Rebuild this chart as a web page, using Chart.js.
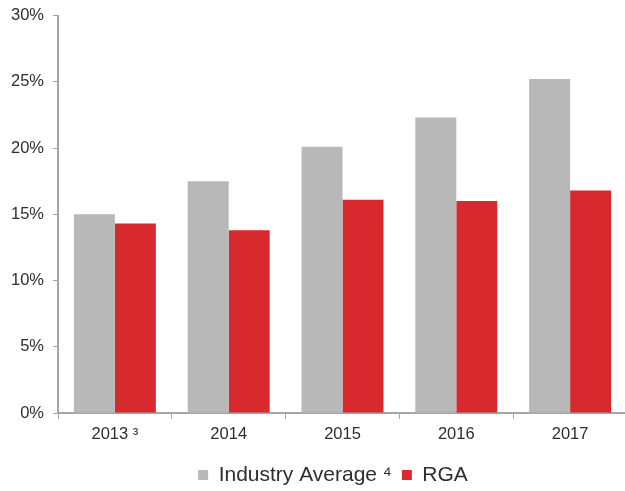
<!DOCTYPE html>
<html>
<head>
<meta charset="utf-8">
<script src="https://cdn.jsdelivr.net/npm/chart.js@4/dist/chart.umd.min.js"></script>
<style>
  html, body { margin: 0; padding: 0; background: #ffffff; overflow: hidden; }
  #wrap { width: 625px; height: 491px; overflow: hidden; }
</style>
</head>
<body>
<div id="wrap"><canvas id="c" width="627" height="491"></canvas></div>
<script>
// Years on the category axis
const years = ['2013 \u00B3', '2014', '2015', '2016', '2017'];
// Percent values per series
const industryAverage = [15.0, 17.5, 20.1, 22.3, 25.2];
const rga = [14.3, 13.8, 16.1, 16.0, 16.8];
// Value axis ticks
const yTicks = [0, 5, 10, 15, 20, 25, 30];

const axisColor = '#a6a6a6';
const textColor = '#2e2e2e';
const fontFamily = '"Liberation Sans", Arial, sans-serif';

// Move the legend row so it sits centred around x = legendCenter
const legendCenter = 333;
const legendShift = {
  id: 'legendShift',
  afterLayout(chart) {
    const lg = chart.legend;
    if (!lg) return;
    const dx = legendCenter - (lg.left + lg.right) / 2;
    lg.left += dx;
    lg.right += dx;
  }
};

new Chart(document.getElementById('c'), {
  type: 'bar',
  data: {
    labels: years,
    datasets: [
      { label: 'Industry Average \u2074', data: industryAverage, backgroundColor: '#b8b8b8', borderWidth: 0 },
      { label: 'RGA', data: rga, backgroundColor: '#d8292e', borderWidth: 0 }
    ]
  },
  plugins: [legendShift],
  options: {
    responsive: false,
    animation: false,
    devicePixelRatio: 1,
    layout: { padding: { top: 15.5, right: 0, bottom: -4.5, left: 0 } },
    datasets: { bar: { barPercentage: 1.0, categoryPercentage: 0.72 } },
    plugins: {
      tooltip: { enabled: false },
      legend: {
        position: 'bottom',
        labels: {
          boxWidth: 10, boxHeight: 10, padding: 10,
          color: textColor,
          font: { family: fontFamily, size: 21 }
        }
      }
    },
    scales: {
      x: {
        afterFit: (axis) => { axis.height = 41.5; },
        grid: { display: true, drawOnChartArea: false, drawTicks: true, tickLength: 6, color: axisColor, offset: true },
        border: { display: true, color: axisColor, width: 2 },
        ticks: { color: textColor, padding: 6, font: { family: fontFamily, size: 16.5 } }
      },
      y: {
        min: 0, max: 30,
        afterBuildTicks: (axis) => { axis.ticks = yTicks.map(v => ({ value: v })); },
        afterFit: (axis) => { axis.width = 58; axis.paddingTop = 0; axis.paddingBottom = 0; },
        grid: { display: true, drawOnChartArea: false, drawTicks: true, tickLength: 5, color: axisColor },
        border: { display: true, color: axisColor, width: 2 },
        ticks: {
          color: textColor, padding: 9,
          font: { family: fontFamily, size: 16.5 },
          callback: (v) => v + '%'
        }
      }
    }
  }
});
</script>
</body>
</html>
